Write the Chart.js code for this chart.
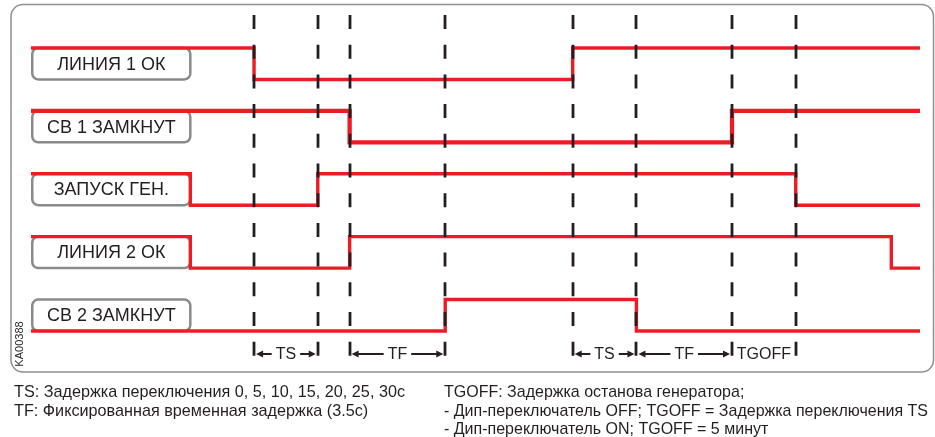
<!DOCTYPE html>
<html>
<head>
<meta charset="utf-8">
<script src="https://cdn.jsdelivr.net/npm/chart.js@4.4.1/dist/chart.umd.min.js"></script>
<style>
  html, body { margin: 0; padding: 0; background: #fff; }
  canvas { display: block; }
</style>
</head>
<body>
<canvas id="timing" width="935" height="437"></canvas>
<script>
// signals, top to bottom
const signals = ['ЛИНИЯ 1 ОК', 'СВ 1 ЗАМКНУТ', 'ЗАПУСК ГЕН.', 'ЛИНИЯ 2 ОК', 'СВ 2 ЗАМКНУТ'];
// level of each signal at t = 0 (1 = high, 0 = low)
const startState = [1, 1, 1, 1, 0];
// times where each signal flips
const edges = [
  [7, 17],
  [10, 22],
  [5, 9, 24],
  [5, 10, 27],
  [13, 19]
];
const tEnd = 27.9;
const labelEnd = 5; // the name boxes cover t = 0..5

// dashed event lines
const markers = [7, 9, 10, 13, 17, 19, 22, 24];

// delay intervals written under the diagram
const spanFrom = [7, 10, 17, 19, 22];
const spanTo = [9, 13, 19, 22, 24];
const spanText = ['TS', 'TF', 'TS', 'TF', 'TGOFF'];
const spanArrows = [true, true, true, true, false];

const notesLeft = [
  'TS: Задержка переключения 0, 5, 10, 15, 20, 25, 30с',
  'TF: Фиксированная временная задержка (3.5с)'
];
const notesRight = [
  'TGOFF: Задержка останова генератора;',
  '- Дип-переключатель OFF; TGOFF = Задержка переключения TS',
  '- Дип-переключатель ON; TGOFF = 5 минут'
];

const RED = '#ed1c24';
const INK = '#231f20';
const FONT = '"Liberation Sans", Arial, sans-serif';

// each signal gets two levels on the y scale: base (low) and base + 1 (high)
function rowBase(i) {
  return (signals.length - 1 - i) * 2;
}

const datasets = [];
for (var i = 0; i < signals.length; i++) {
  var base = rowBase(i);
  var s = startState[i];
  var pts = [{ x: 0, y: base + s }];
  for (var j = 0; j < edges[i].length; j++) {
    s = 1 - s;
    pts.push({ x: edges[i][j], y: base + s });
  }
  pts.push({ x: tEnd, y: base + s });
  datasets.push({
    label: signals[i],
    data: pts,
    stepped: 'before',
    borderColor: RED,
    borderWidth: i === 1 ? 4.3 : 3.4,
    borderJoinStyle: 'miter',
    borderCapStyle: 'butt',
    pointRadius: 0,
    clip: false
  });
}

function drawArrow(ctx, fromX, toX, y) {
  var dir = toX > fromX ? 1 : -1;
  ctx.beginPath();
  ctx.moveTo(fromX, y);
  ctx.lineTo(toX - dir * 5, y);
  ctx.stroke();
  ctx.beginPath();
  ctx.moveTo(toX, y);
  ctx.lineTo(toX - dir * 7, y - 3.5);
  ctx.lineTo(toX - dir * 7, y + 3.5);
  ctx.closePath();
  ctx.fill();
}

// draw a text block squeezed to a given width
function drawSqueezed(ctx, lines, left, firstLine, width) {
  var f = width / ctx.measureText(lines[firstLine]).width;
  var lineY = [397, 415.5, 434];
  for (var n = 0; n < lines.length; n++) {
    ctx.save();
    ctx.translate(left, lineY[n]);
    ctx.scale(f, 1);
    ctx.fillText(lines[n], 0, 0);
    ctx.restore();
  }
}

const decorations = {
  id: 'decorations',
  beforeDatasetsDraw(chart) {
    const ctx = chart.ctx;
    const x = chart.scales.x, y = chart.scales.y;
    ctx.save();

    // outer frame
    ctx.strokeStyle = '#8f8f8f';
    ctx.lineWidth = 1.5;
    ctx.beginPath();
    ctx.roundRect(11, 4.5, 922.5, 367.5, 12);
    ctx.stroke();

    // name boxes
    ctx.font = '18px ' + FONT;
    ctx.textAlign = 'center';
    ctx.textBaseline = 'middle';
    for (var i = 0; i < signals.length; i++) {
      var hi = y.getPixelForValue(rowBase(i) + 1);
      var lo = y.getPixelForValue(rowBase(i));
      var x0 = x.getPixelForValue(0) + 1.25;
      var x1 = x.getPixelForValue(labelEnd);
      ctx.beginPath();
      ctx.roundRect(x0, hi, x1 - x0, lo - hi, 6);
      ctx.fillStyle = '#fff';
      ctx.fill();
      ctx.strokeStyle = '#8a8a8a';
      ctx.lineWidth = 2.5;
      ctx.stroke();
      ctx.fillStyle = INK;
      ctx.fillText(signals[i], (x0 + x1) / 2, (hi + lo) / 2 + 1);
    }
    ctx.restore();
  },
  afterDatasetsDraw(chart) {
    const ctx = chart.ctx;
    const x = chart.scales.x;
    ctx.save();

    // dashed event lines
    ctx.strokeStyle = INK;
    ctx.lineWidth = 2.8;
    ctx.setLineDash([14, 15.7]);
    for (var i = 0; i < markers.length; i++) {
      var px = Math.round(x.getPixelForValue(markers[i]));
      ctx.beginPath();
      ctx.moveTo(px, 15);
      ctx.lineTo(px, 357);
      ctx.stroke();
    }
    ctx.setLineDash([]);

    // interval labels
    var ay = 354;
    ctx.font = '16px ' + FONT;
    ctx.textAlign = 'center';
    ctx.textBaseline = 'middle';
    ctx.fillStyle = INK;
    ctx.lineWidth = 2;
    for (var k = 0; k < spanText.length; k++) {
      var a = x.getPixelForValue(spanFrom[k]) + 2;
      var b = x.getPixelForValue(spanTo[k]) - 2;
      var mid = (a + b) / 2;
      ctx.fillText(spanText[k], mid, ay + 1);
      if (spanArrows[k]) {
        var w = ctx.measureText(spanText[k]).width;
        drawArrow(ctx, mid - w / 2 - 4, a, ay);
        drawArrow(ctx, mid + w / 2 + 4, b, ay);
      }
    }

    // notes under the frame
    ctx.textAlign = 'left';
    ctx.textBaseline = 'alphabetic';
    ctx.font = '17px ' + FONT;
    drawSqueezed(ctx, notesLeft, 14, 0, 391);
    drawSqueezed(ctx, notesRight, 444, 1, 484);

    // drawing number
    ctx.save();
    ctx.translate(20, 344);
    ctx.rotate(-Math.PI / 2);
    ctx.font = '11px ' + FONT;
    ctx.textAlign = 'center';
    ctx.textBaseline = 'middle';
    ctx.fillText('KA00388', 0, 0);
    ctx.restore();

    ctx.restore();
  }
};

new Chart(document.getElementById('timing'), {
  type: 'line',
  data: { datasets: datasets },
  options: {
    responsive: false,
    animation: false,
    devicePixelRatio: 1,
    layout: { padding: { left: 31, right: 15, top: 48, bottom: 106 } },
    scales: {
      x: { type: 'linear', min: 0, max: tEnd, display: false },
      y: { type: 'linear', min: 0, max: 9, display: false }
    },
    plugins: {
      legend: { display: false },
      tooltip: { enabled: false }
    }
  },
  plugins: [decorations]
});
</script>
</body>
</html>
